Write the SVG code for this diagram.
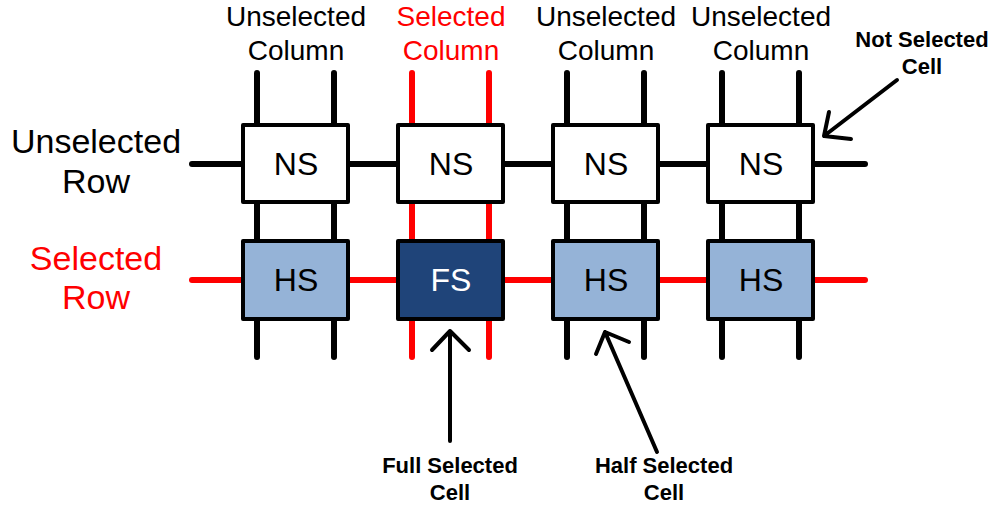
<svg xmlns="http://www.w3.org/2000/svg" width="995" height="507" viewBox="0 0 995 507">
<style>
text{font-family:"Liberation Sans",Arial,sans-serif;text-anchor:middle}
.hdr{font-size:28px}
.lbl{font-size:34px}
.cell{font-size:32px}
.ann{font-size:22px;font-weight:bold}
.red{fill:#FF0000}
.wire{stroke-width:6;stroke-linecap:round;fill:none}
.bk{stroke:#000}
.rd{stroke:#FF0000}
.box{stroke:#000;stroke-width:4;stroke-linejoin:round}
.ns{fill:#FFFFFF}
.hs{fill:#95B3D7}
.fs{fill:#1F4479}
.arr{stroke:#000;stroke-width:4;fill:none;stroke-linecap:round;stroke-linejoin:round}
</style>
<g id="labels">
<text class="hdr" x="296" y="26">Unselected</text>
<text class="hdr" x="296" y="60">Column</text>
<text class="hdr red" x="451" y="26">Selected</text>
<text class="hdr red" x="451" y="60">Column</text>
<text class="hdr" x="606" y="26">Unselected</text>
<text class="hdr" x="606" y="60">Column</text>
<text class="hdr" x="761" y="26">Unselected</text>
<text class="hdr" x="761" y="60">Column</text>
<text class="lbl" x="96" y="153">Unselected</text>
<text class="lbl" x="96" y="193">Row</text>
<text class="lbl red" x="96" y="270">Selected</text>
<text class="lbl red" x="96" y="309">Row</text>
</g>
<g id="connectors">
<line class="wire bk" x1="192" y1="164" x2="865" y2="164"/>
<line class="wire rd" x1="192" y1="280" x2="865" y2="280"/>
<line class="wire bk" x1="257" y1="73" x2="257" y2="357"/>
<line class="wire bk" x1="334" y1="73" x2="334" y2="357"/>
<line class="wire rd" x1="412" y1="73" x2="412" y2="357"/>
<line class="wire rd" x1="489" y1="73" x2="489" y2="357"/>
<line class="wire bk" x1="567" y1="73" x2="567" y2="357"/>
<line class="wire bk" x1="644" y1="73" x2="644" y2="357"/>
<line class="wire bk" x1="722" y1="73" x2="722" y2="357"/>
<line class="wire bk" x1="799" y1="73" x2="799" y2="357"/>
<path class="arr" d="M897 80 L824 136 M829 112 L824 136 L851 139"/>
<path class="arr" d="M450 441 L450 331 M432 350 L450 331 L469 350"/>
<path class="arr" d="M657 452 L605 332 M596 354 L605 332 L629 342"/>
</g>
<g id="cell-ns1"><rect class="box ns" x="243" y="125" width="105" height="77"/><text class="cell" x="296" y="175">NS</text></g>
<g id="cell-ns2"><rect class="box ns" x="398" y="125" width="105" height="77"/><text class="cell" x="451" y="175">NS</text></g>
<g id="cell-ns3"><rect class="box ns" x="553" y="125" width="105" height="77"/><text class="cell" x="606" y="175">NS</text></g>
<g id="cell-ns4"><rect class="box ns" x="708" y="125" width="105" height="77"/><text class="cell" x="761" y="175">NS</text></g>
<g id="cell-hs1"><rect class="box hs" x="243" y="241" width="105" height="78"/><text class="cell" x="296" y="291">HS</text></g>
<g id="cell-fs"><rect class="box fs" x="398" y="241" width="105" height="78"/><text class="cell" x="451" y="291" fill="#FFFFFF">FS</text></g>
<g id="cell-hs2"><rect class="box hs" x="553" y="241" width="105" height="78"/><text class="cell" x="606" y="291">HS</text></g>
<g id="cell-hs3"><rect class="box hs" x="708" y="241" width="105" height="78"/><text class="cell" x="761" y="291">HS</text></g>
<g id="annotations">
<text class="ann" x="922" y="47">Not Selected</text>
<text class="ann" x="922" y="74">Cell</text>
<text class="ann" x="450" y="473">Full Selected</text>
<text class="ann" x="450" y="500">Cell</text>
<text class="ann" x="664" y="473">Half Selected</text>
<text class="ann" x="664" y="500">Cell</text>
</g>
</svg>
